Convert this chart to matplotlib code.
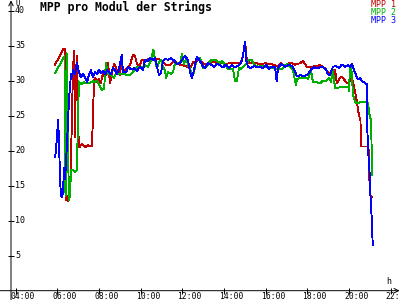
import matplotlib.pyplot as plt

# MPP voltage per module, time in hours
red_t = [5.89, 5.98, 6.08, 6.17, 6.27, 6.37, 6.41, 6.46, 6.51, 6.56, 6.61, 6.65, 6.70, 6.75, 6.80, 6.85,
         6.89, 6.94, 6.99, 7.04, 7.09, 7.13, 7.18, 7.28, 7.37, 7.47, 7.57, 7.66, 7.71, 7.76, 7.81, 7.90,
         8.00, 8.09, 8.19, 8.29, 8.38, 8.43, 8.53, 8.62, 8.72, 8.82, 8.91, 9.01, 9.09, 9.15, 9.30, 9.39,
         9.49, 9.63, 9.73, 9.82, 9.92, 10.06, 10.21, 10.35, 10.45, 10.69, 10.93, 11.12, 11.26, 11.41,
         11.55, 11.74, 11.89, 12.03, 12.22, 12.37, 12.51, 12.66, 12.85, 12.99, 13.18, 13.33, 13.47,
         13.66, 13.81, 14.05, 14.29, 14.53, 14.77, 14.91, 15.01, 15.10, 15.25, 15.49, 15.73, 15.97,
         16.21, 16.45, 16.59, 16.74, 16.93, 17.17, 17.41, 17.65, 17.79, 17.98, 18.13, 18.37, 18.61,
         18.85, 18.99, 19.14, 19.23, 19.33, 19.42, 19.52, 19.65, 19.76, 19.86, 19.97, 20.05, 20.13,
         20.19, 20.29, 20.38, 20.48, 20.55, 20.58, 20.72, 20.90, 20.96, 20.99, 21.01, 21.09]
red_v = [32.3, 32.8, 33.3, 33.8, 34.5, 34.5, 13.0, 13.5, 12.8, 14.5, 15.0, 18.0, 25.0, 31.5, 34.3, 22.0,
         31.0, 33.5, 24.0, 20.5, 20.6, 20.8, 21.0, 20.7, 20.5, 20.8, 20.6, 20.7, 25.0, 30.0, 30.4, 29.8,
         30.2, 29.7, 31.0, 30.5, 31.5, 32.5, 29.7, 31.0, 32.4, 31.8, 31.0, 30.8, 33.7, 31.2, 31.6, 32.0,
         32.3, 33.7, 33.5, 32.4, 32.0, 33.0, 32.8, 33.1, 33.0, 33.2, 33.0, 32.5, 32.2, 32.3,
         32.7, 32.6, 32.3, 32.2, 32.0, 31.7, 32.6, 32.8, 33.0, 32.5, 32.3, 32.4, 32.8,
         32.5, 32.6, 32.4, 32.5, 32.6, 32.4, 33.5, 35.6, 32.8, 32.5, 32.6, 32.3, 32.5,
         32.4, 32.2, 32.0, 32.5, 32.1, 32.6, 32.3, 32.5, 32.8, 32.0, 31.9, 32.1, 32.2,
         31.8, 31.2, 31.0, 30.5, 31.5, 29.6, 30.2, 30.6, 30.2, 29.8, 29.6, 30.0, 30.5,
         29.8, 28.5, 27.0, 25.0, 24.5, 20.6, 20.6, 20.6, 20.0, 14.5, 13.7, 13.4]

green_t = [5.89, 5.98, 6.08, 6.17, 6.27, 6.34, 6.37, 6.39, 6.41, 6.44, 6.46, 6.51, 6.56, 6.61, 6.65, 6.75,
           6.85, 6.94, 6.99, 7.04, 7.13, 7.28, 7.42, 7.57, 7.71, 7.81, 7.90, 8.00, 8.09, 8.14, 8.24, 8.33,
           8.43, 8.53, 8.62, 8.72, 8.82, 9.01, 9.25, 9.39, 9.54, 9.68, 9.87, 10.02, 10.21, 10.35, 10.50,
           10.61, 10.69, 10.78, 10.88, 10.98, 11.07, 11.17, 11.22, 11.31, 11.46, 11.55, 11.65, 11.79,
           11.89, 11.98, 12.08, 12.21, 12.27, 12.37, 12.46, 12.56, 12.70, 12.85, 12.99, 13.14, 13.28,
           13.42, 13.62, 13.76, 13.90, 14.05, 14.19, 14.34, 14.43, 14.53, 14.62, 14.72, 14.82, 14.91,
           15.10, 15.20, 15.34, 15.44, 15.63, 15.82, 16.02, 16.21, 16.40, 16.59, 16.78, 16.93, 17.07,
           17.22, 17.31, 17.41, 17.46, 17.50, 17.65, 17.84, 18.03, 18.18, 18.27, 18.42, 18.61, 18.75,
           18.90, 19.04, 19.14, 19.23, 19.33, 19.47, 19.66, 19.86, 19.97, 20.00, 20.05, 20.10, 20.14,
           20.19, 20.29, 20.38, 20.53, 20.72, 20.92, 20.96, 21.01, 21.06, 21.09, 21.10]
green_v = [31.1, 31.6, 32.1, 32.6, 33.2, 33.5, 20.0, 13.5, 14.0, 34.0, 33.0, 20.0, 13.0, 13.5, 17.2, 17.2,
           17.0, 17.2, 25.0, 29.9, 29.5, 29.8, 29.6, 29.7, 29.9, 29.8, 30.0, 29.5, 28.9, 28.7, 28.8, 32.5,
           31.0, 30.8, 30.7, 30.4, 31.0, 31.0, 30.9, 30.8, 30.9, 31.5, 32.0, 31.8, 32.2, 32.0, 33.0,
           34.4, 33.0, 31.8, 32.6, 33.0, 32.0, 31.4, 30.4, 31.2, 31.0, 31.2, 32.5, 32.5,
           32.5, 33.8, 32.4, 33.3, 32.2, 31.7, 30.8, 31.2, 33.3, 33.2, 31.8, 31.9, 32.6,
           33.0, 33.0, 32.5, 32.8, 32.3, 31.7, 31.6, 31.7, 29.9, 30.0, 31.8, 31.7, 32.0,
           32.5, 33.0, 33.0, 32.3, 32.0, 32.1, 32.0, 31.9, 31.8, 31.7, 31.6, 32.2, 32.4,
           31.8, 31.6, 30.0, 29.4, 30.2, 30.4, 30.4, 30.3, 31.5, 29.8, 29.8, 29.6, 30.0,
           30.0, 30.4, 29.8, 31.5, 29.0, 29.0, 29.1, 29.1, 29.1, 28.5, 32.0, 31.8, 31.0,
           28.0, 27.0, 26.8, 26.9, 27.0, 26.8, 25.5, 24.8, 24.5, 20.0, 16.5]

blue_t = [5.89, 5.93, 5.98, 6.04, 6.08, 6.13, 6.17, 6.22, 6.27, 6.32, 6.37, 6.41, 6.46, 6.51, 6.56, 6.61,
          6.65, 6.70, 6.75, 6.85, 6.94, 7.04, 7.13, 7.23, 7.33, 7.42, 7.52, 7.61, 7.71, 7.81, 7.90, 8.00,
          8.09, 8.19, 8.29, 8.38, 8.48, 8.57, 8.67, 8.77, 8.86, 8.96, 9.09, 9.15, 9.30, 9.39, 9.54, 9.68,
          9.82, 9.97, 10.11, 10.21, 10.35, 10.45, 10.59, 10.69, 10.78, 10.88, 10.98, 11.07, 11.17, 11.31,
          11.46, 11.60, 11.74, 11.89, 12.03, 12.13, 12.27, 12.37, 12.46, 12.56, 12.61, 12.70, 12.85,
          12.99, 13.09, 13.23, 13.38, 13.52, 13.66, 13.81, 13.95, 14.10, 14.24, 14.38, 14.53, 14.67,
          14.82, 14.91, 15.01, 15.06, 15.15, 15.30, 15.44, 15.58, 15.73, 15.87, 16.02, 16.16, 16.30,
          16.45, 16.53, 16.59, 16.74, 16.93, 17.12, 17.31, 17.41, 17.50, 17.65, 17.84, 18.03, 18.18,
          18.32, 18.51, 18.70, 18.90, 18.99, 19.09, 19.23, 19.38, 19.52, 19.66, 19.81, 19.95, 20.05,
          20.14, 20.24, 20.34, 20.43, 20.53, 20.63, 20.77, 20.85, 20.87, 20.92, 20.99, 21.04, 21.10, 21.14]
blue_v = [19.1, 20.0, 22.0, 24.4, 21.0, 16.0, 13.5, 13.4, 14.0, 17.5, 16.0, 18.0, 21.0, 24.0, 27.5, 29.0,
          31.0, 30.5, 31.5, 31.0, 32.5, 31.2, 30.5, 31.0, 30.5, 29.8, 30.8, 31.5, 30.5, 31.3, 30.9, 31.6,
          31.1, 31.4, 30.9, 31.5, 31.2, 30.9, 31.8, 31.5, 30.9, 31.7, 33.7, 31.2, 31.2, 32.0, 31.6, 31.8,
          31.4, 32.0, 31.5, 33.0, 32.8, 33.2, 33.0, 33.2, 32.0, 30.8, 31.2, 32.8, 33.1, 33.0,
          33.2, 32.9, 32.4, 32.5, 33.2, 33.5, 33.0, 31.2, 30.4, 31.5, 32.3, 33.4, 32.8,
          32.0, 31.8, 32.5, 32.3, 32.0, 32.4, 32.2, 31.9, 32.3, 31.8, 32.2, 31.9, 32.1,
          32.5, 33.5, 35.6, 33.0, 32.0, 31.8, 32.1, 31.9, 32.0, 31.8, 32.2, 31.7, 32.0,
          31.9, 29.9, 31.8, 32.4, 32.0, 32.3, 32.0, 31.3, 30.6, 30.8, 30.6, 30.9, 31.6,
          31.9, 31.8, 32.0, 31.6, 30.9, 30.8, 32.0, 32.1, 31.8, 32.3, 32.0, 32.2, 32.0,
          32.4, 31.5, 30.8, 30.2, 30.4, 29.9, 29.7, 29.5, 24.0, 20.0, 16.8, 13.0, 10.0, 6.5]

series = [("MPP 1", red_t, red_v, "#c00000"),
          ("MPP 2", green_t, green_v, "#00b000"),
          ("MPP 3", blue_t, blue_v, "#0000ff")]

x_ticks = [4, 6, 8, 10, 12, 14, 16, 18, 20, 22]
x_labels = ["04:00", "06:00", "08:00", "10:00", "12:00", "14:00", "16:00", "18:00", "20:00", "22:00"]
y_ticks = [5, 10, 15, 20, 25, 30, 35, 40]

mono = "DejaVu Sans Mono"
x0, x1 = 3.246, 22.45
y0, y1 = -1.33, 41.53
yaxis_x = 3.774

fig = plt.figure(figsize=(4, 3), dpi=100)
ax = fig.add_axes([0, 0, 1, 1])
ax.set_xlim(x0, x1)
ax.set_ylim(y0, y1)
ax.axis("off")

for name, t, v, c in series:
    ax.plot(t, v, color=c, lw=0.65, antialiased=False)

# axes with arrows
ax.annotate("", xy=(x1 - 0.02, 0), xytext=(x0, 0),
            arrowprops=dict(arrowstyle="->", lw=0.7, color="black", shrinkA=0, shrinkB=0, mutation_scale=8))
ax.annotate("", xy=(yaxis_x, y1 - 0.05), xytext=(yaxis_x, y0),
            arrowprops=dict(arrowstyle="->", lw=0.7, color="black", shrinkA=0, shrinkB=0, mutation_scale=8))

ax.plot([yaxis_x] * len(y_ticks), y_ticks, ls="none", marker="_", ms=5, mew=0.7, color="black")
ax.plot(x_ticks, [0] * len(x_ticks), ls="none", marker="|", ms=5, mew=0.7, color="black")

for v in y_ticks:
    ax.text(yaxis_x + 0.19, v, str(v), ha="left", va="center", fontsize=6, family=mono)
for h, lab in zip(x_ticks, x_labels):
    ax.text(h - 0.23, -0.25, lab, ha="left", va="top", fontsize=5.8, family=mono)

ax.text(yaxis_x + 0.2, 41.1, "U", ha="left", va="center", fontsize=5.5, family=mono)
ax.text(21.8, 1.3, "h", ha="left", va="center", fontsize=6, family=mono)

fig.text(0.1, 0.975, "MPP pro Modul der Strings", ha="left", va="center",
         fontsize=8.3, family=mono, fontweight="bold")
for i, (name, t, v, c) in enumerate(series):
    fig.text(0.99, 0.985 - i * 0.027, name, ha="right", va="center", fontsize=6, family=mono, color=c)

fig.savefig("out.png", dpi=100)
